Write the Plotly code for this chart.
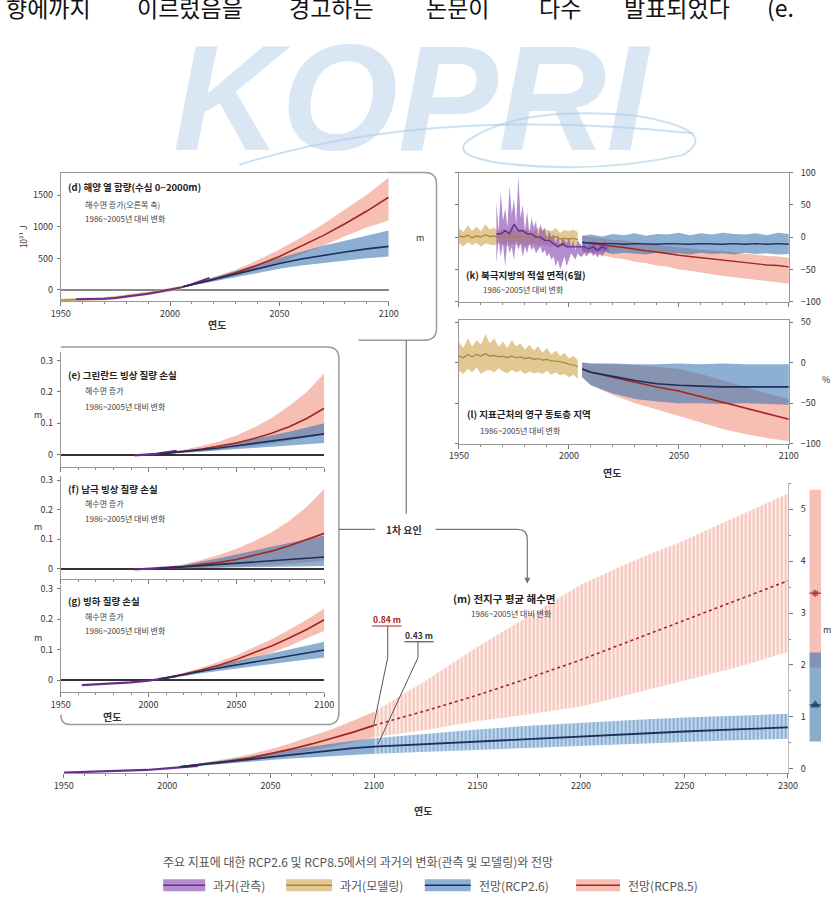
import plotly.graph_objects as go

W, H = 834, 909
FONT = "Noto Sans CJK KR"

def X(px): return px / W
def Y(py): return 1 - py / H

# ---------------- colours ----------------
C_OBS_F = "rgba(140,80,180,0.65)"; C_OBS_L = "#6a2c91"
C_MOD_F = "rgba(214,176,100,0.7)"; C_MOD_L = "#a8843c"
C_26_F = "rgba(45,110,175,0.55)"; C_26_L = "#1c2f5c"
C_85_F = "rgba(240,125,105,0.5)"; C_85_L = "#a3261f"

# ---------------- data ----------------
# (d) ocean heat content 0-2000 m (10^21 J)
d_mod_years = [1950, 1955, 1960, 1965, 1970, 1975, 1980, 1985, 1990, 1995, 2000, 2005]
d_mod_mid = [-165, -160, -155, -150, -140, -125, -105, -80, -55, -25, 0, 35]
d_mod_hi = [-140, -135, -128, -122, -112, -98, -78, -52, -28, 2, 28, 62]
d_mod_lo = [-190, -186, -182, -178, -168, -152, -132, -108, -82, -52, -28, 8]
d_obs_years = [1957, 1960, 1965, 1970, 1975, 1980, 1985, 1990, 1995, 2000, 2005, 2010, 2015, 2018]
d_obs_mid = [-150, -150, -145, -140, -130, -110, -85, -60, -30, 0, 40, 90, 150, 190]
d_proj_years = [2006, 2020, 2030, 2040, 2050, 2060, 2070, 2080, 2090, 2100]
d85_mid = [50, 170, 270, 390, 530, 690, 860, 1050, 1250, 1470]
d85_hi = [60, 200, 320, 470, 640, 830, 1040, 1270, 1510, 1780]
d85_lo = [40, 140, 225, 320, 430, 560, 700, 850, 990, 1100]
d26_mid = [50, 165, 250, 340, 420, 490, 550, 600, 650, 690]
d26_hi = [60, 195, 300, 410, 510, 610, 700, 780, 860, 940]
d26_lo = [40, 135, 205, 275, 335, 385, 425, 460, 500, 530]

# (e)(f)(g) ice / glacier mass loss (m sea level equivalent)
ice_obs_years = [1992, 1996, 2000, 2004, 2008, 2012, 2016]
e_obs = [-0.003, -0.002, 0.000, 0.002, 0.005, 0.009, 0.012]
f_obs = [-0.002, -0.001, 0.000, 0.001, 0.003, 0.005, 0.007]
g_obs_years = [1962, 1970, 1980, 1990, 2000, 2006, 2010, 2016]
g_obs = [-0.016, -0.014, -0.011, -0.007, -0.002, 0.003, 0.007, 0.013]
ice_proj_years = [2006, 2010, 2020, 2030, 2040, 2050, 2060, 2070, 2080, 2090, 2100]
e85_mid = [0.002, 0.004, 0.010, 0.017, 0.026, 0.037, 0.051, 0.068, 0.089, 0.115, 0.148]
e85_hi = [0.003, 0.006, 0.015, 0.027, 0.042, 0.061, 0.086, 0.117, 0.155, 0.200, 0.260]
e85_lo = [0.001, 0.003, 0.006, 0.010, 0.015, 0.020, 0.027, 0.035, 0.044, 0.056, 0.070]
e26_mid = [0.002, 0.004, 0.009, 0.015, 0.021, 0.028, 0.035, 0.042, 0.050, 0.058, 0.066]
e26_hi = [0.003, 0.005, 0.012, 0.020, 0.029, 0.039, 0.050, 0.061, 0.073, 0.086, 0.100]
e26_lo = [0.001, 0.003, 0.006, 0.009, 0.013, 0.017, 0.021, 0.025, 0.029, 0.033, 0.037]
f85_mid = [0.002, 0.003, 0.008, 0.014, 0.022, 0.032, 0.045, 0.060, 0.078, 0.098, 0.120]
f85_hi = [0.003, 0.006, 0.016, 0.030, 0.047, 0.068, 0.093, 0.124, 0.162, 0.210, 0.270]
f85_lo = [0.001, 0.001, 0.002, 0.003, 0.005, 0.007, 0.010, 0.013, 0.017, 0.022, 0.028]
f26_mid = [0.002, 0.003, 0.007, 0.011, 0.015, 0.019, 0.023, 0.027, 0.031, 0.035, 0.040]
f26_hi = [0.003, 0.005, 0.013, 0.024, 0.036, 0.049, 0.062, 0.075, 0.088, 0.100, 0.113]
f26_lo = [0.001, 0.001, 0.002, 0.003, 0.004, 0.005, 0.006, 0.007, 0.008, 0.009, 0.010]
g85_mid = [0.003, 0.007, 0.019, 0.033, 0.049, 0.068, 0.089, 0.112, 0.138, 0.166, 0.198]
g85_hi = [0.004, 0.009, 0.024, 0.041, 0.060, 0.082, 0.107, 0.134, 0.165, 0.198, 0.235]
g85_lo = [0.002, 0.005, 0.014, 0.025, 0.038, 0.054, 0.071, 0.090, 0.112, 0.136, 0.162]
g26_mid = [0.003, 0.007, 0.018, 0.029, 0.040, 0.050, 0.060, 0.070, 0.080, 0.090, 0.099]
g26_hi = [0.004, 0.009, 0.022, 0.036, 0.050, 0.063, 0.076, 0.089, 0.101, 0.114, 0.126]
g26_lo = [0.002, 0.005, 0.014, 0.023, 0.031, 0.039, 0.046, 0.053, 0.060, 0.067, 0.074]

# (k) Arctic June snow cover (%)
k_mod_years = list(range(1950, 2006, 2))
k_mod_hi = [14, 8, 18, 10, 16, 9, 20, 12, 15, 8, 13, 10, 17, 9, 14, 11, 12, 8, 15, 10, 12, 9, 14, 7, 11, 9, 12, 8]
k_mod_lo = [-10, -14, -8, -12, -9, -15, -10, -11, -13, -9, -12, -14, -10, -12, -11, -13, -12, -10, -14, -12, -13, -15, -12, -16, -14, -15, -16, -15]
k_mod_mid = [2, 0, 3, -1, 2, 0, 4, 1, 2, -1, 1, 0, 2, -1, 1, 0, 0, -1, 1, -1, 0, -2, 1, -3, -2, -3, -2, -4]
k_obs_years = list(range(1967, 2019))
k_obs_hi = [55, 10, 70, 25, 45, 15, 80, 35, 60, 20, 95, 30, 50, 10, 40, 5, 30, 15, 25, 0,
            20, 10, 15, -5, 10, 0, 5, -10, 5, -15, 0, -5, -10, 0, -15, -5, -20, -5, -10, -15,
            -5, -20, -10, -15, -5, -10, -20, -10, -15, -5, -10, -15]
k_obs_lo = [-40, -5, -30, -10, -45, -5, -25, -15, -35, -5, -20, -10, -30, -15, -25, -10, -20, -15, -25, -20,
            -15, -25, -20, -30, -25, -35, -30, -45, -35, -50, -40, -30, -45, -35, -25, -30, -35, -25, -30, -30,
            -25, -30, -25, -20, -30, -25, -32, -25, -30, -25, -20, -25]
k_obs_mid_years = list(range(1967, 2018, 2))
k_obs_mid = [5, 5, 10, 5, 20, 10, 10, 5, 5, 0, 0, -5, -5, -10, -15, -10, -15, -15, -15, -15, -15, -18, -15, -20, -15, -18]
k_proj_years = [2006, 2010, 2015, 2020, 2025, 2030, 2035, 2040, 2045, 2050, 2055, 2060, 2065, 2070, 2075, 2080, 2085, 2090, 2095, 2100]
k26_mid = [-8, -9, -10, -10, -11, -10, -11, -11, -10, -11, -11, -10, -11, -11, -10, -11, -10, -11, -10, -11]
k26_hi = [2, 4, 1, 5, 3, 6, 2, 5, 4, 7, 3, 6, 4, 7, 5, 4, 6, 3, 7, 5]
k26_lo = [-22, -24, -22, -26, -24, -25, -27, -24, -26, -25, -27, -24, -26, -25, -27, -24, -26, -25, -27, -26]
k85_mid = [-8, -10, -12, -14, -16, -19, -21, -23, -26, -28, -30, -32, -34, -36, -38, -39, -41, -43, -44, -46]
k85_hi = [2, 0, -2, -4, -5, -8, -10, -12, -14, -16, -17, -19, -21, -22, -24, -26, -27, -29, -30, -32]
k85_lo = [-22, -26, -28, -32, -34, -38, -40, -44, -46, -50, -52, -55, -57, -60, -62, -64, -66, -68, -70, -72]

# (l) near-surface permafrost area (%)
l_mod_years = list(range(1950, 2006, 2))
l_mod_hi = [25, 18, 30, 20, 28, 22, 35, 24, 30, 20, 26, 18, 28, 20, 24, 16, 22, 15, 20, 12, 18, 10, 15, 8, 12, 5, 8, 3]
l_mod_lo = [-10, -14, -8, -12, -6, -14, -10, -9, -12, -7, -11, -13, -9, -12, -10, -14, -11, -13, -12, -14, -10, -15, -12, -16, -14, -18, -15, -20]
l_mod_mid = [8, 6, 10, 7, 10, 8, 11, 8, 9, 7, 8, 6, 8, 6, 7, 5, 6, 4, 5, 3, 4, 2, 2, 1, 0, -2, -3, -5]
l_proj_years = [2006, 2010, 2020, 2030, 2040, 2050, 2060, 2070, 2080, 2090, 2100]
l26_mid = [-8, -12, -17, -22, -26, -28, -29, -30, -30, -30, -30]
l26_hi = [0, -1, -1, -2, -2, -1, -2, -1, -2, -2, -2]
l26_lo = [-18, -28, -38, -45, -48, -50, -50, -51, -50, -51, -52]
l85_mid = [-8, -12, -18, -24, -30, -35, -42, -49, -56, -63, -70]
l85_hi = [0, -1, -2, -3, -5, -8, -14, -22, -30, -38, -45]
l85_lo = [-18, -28, -40, -50, -58, -66, -74, -82, -88, -93, -97]

# (m) global mean sea level (m)
m_obs_years = [1950, 1960, 1970, 1980, 1990, 2000, 2010, 2015]
m_obs = [-0.07, -0.06, -0.05, -0.04, -0.02, 0.01, 0.04, 0.06]
m_proj_years = [2006, 2020, 2030, 2040, 2050, 2060, 2070, 2080, 2090, 2100]
m85_mid = [0.04, 0.10, 0.15, 0.21, 0.29, 0.38, 0.48, 0.59, 0.71, 0.84]
m85_hi = [0.05, 0.13, 0.20, 0.28, 0.38, 0.50, 0.63, 0.77, 0.93, 1.10]
m85_lo = [0.03, 0.08, 0.11, 0.15, 0.21, 0.28, 0.35, 0.43, 0.52, 0.61]
m26_mid = [0.04, 0.10, 0.14, 0.19, 0.24, 0.28, 0.32, 0.36, 0.40, 0.43]
m26_hi = [0.05, 0.12, 0.18, 0.24, 0.31, 0.37, 0.43, 0.49, 0.54, 0.59]
m26_lo = [0.03, 0.07, 0.10, 0.14, 0.17, 0.20, 0.22, 0.25, 0.27, 0.29]
m_ext_years = [2100, 2125, 2150, 2175, 2200, 2225, 2250, 2275, 2300]
m85e_mid = [0.84, 1.12, 1.42, 1.75, 2.10, 2.48, 2.87, 3.25, 3.62]
m85e_hi = [1.10, 1.70, 2.35, 2.95, 3.55, 4.00, 4.40, 4.85, 5.30]
m85e_lo = [0.61, 0.75, 0.92, 1.05, 1.20, 1.45, 1.70, 1.95, 2.25]
m26e_mid = [0.43, 0.48, 0.53, 0.58, 0.63, 0.68, 0.72, 0.76, 0.80]
m26e_hi = [0.59, 0.68, 0.76, 0.83, 0.89, 0.94, 0.99, 1.03, 1.06]
m26e_lo = [0.29, 0.33, 0.37, 0.41, 0.45, 0.49, 0.52, 0.55, 0.58]
bar85_range = [1.95, 5.37]
bar26_range = [0.53, 2.24]
mark85 = 3.38
mark26 = 1.23
label85 = "0.84 m"
label26 = "0.43 m"

fig = go.Figure()

def band(x, lo, hi, color, xa, ya, pattern=None):
    fig.add_trace(go.Scatter(x=x, y=hi, mode="lines", line=dict(width=0), xaxis=xa, yaxis=ya,
                             hoverinfo="skip", showlegend=False))
    kw = dict(fillpattern=pattern) if pattern else {}
    fig.add_trace(go.Scatter(x=x, y=lo, mode="lines", line=dict(width=0), fill="tonexty",
                             fillcolor=color, xaxis=xa, yaxis=ya, hoverinfo="skip",
                             showlegend=False, **kw))

def line(x, y, color, xa, ya, width=1.6, dash="solid"):
    fig.add_trace(go.Scatter(x=x, y=y, mode="lines", line=dict(color=color, width=width, dash=dash),
                             xaxis=xa, yaxis=ya, hoverinfo="skip", showlegend=False))

# (d)
band(d_mod_years, d_mod_lo, d_mod_hi, C_MOD_F, "x", "y")
band(d_proj_years, d85_lo, d85_hi, C_85_F, "x", "y")
band(d_proj_years, d26_lo, d26_hi, C_26_F, "x", "y")
line(d_mod_years, d_mod_mid, C_MOD_L, "x", "y")
line(d_obs_years, d_obs_mid, C_OBS_L, "x", "y", 2)
line(d_proj_years, d85_mid, C_85_L, "x", "y")
line(d_proj_years, d26_mid, C_26_L, "x", "y")

# (e)(f)(g)
for xa, ya, obs_x, obs_y, m85, h85, l85, m26, h26, l26 in [
    ("x2", "y3", ice_obs_years, e_obs, e85_mid, e85_hi, e85_lo, e26_mid, e26_hi, e26_lo),
    ("x3", "y4", ice_obs_years, f_obs, f85_mid, f85_hi, f85_lo, f26_mid, f26_hi, f26_lo),
    ("x4", "y5", g_obs_years, g_obs, g85_mid, g85_hi, g85_lo, g26_mid, g26_hi, g26_lo)]:
    band(ice_proj_years, l85, h85, C_85_F, xa, ya)
    band(ice_proj_years, l26, h26, C_26_F, xa, ya)
    line(obs_x, obs_y, C_OBS_L, xa, ya, 2.2)
    line(ice_proj_years, m85, C_85_L, xa, ya)
    line(ice_proj_years, m26, C_26_L, xa, ya)

# (k)
band(k_mod_years, k_mod_lo, k_mod_hi, C_MOD_F, "x5", "y6")
band(k_proj_years, k85_lo, k85_hi, C_85_F, "x5", "y6")
band(k_proj_years, k26_lo, k26_hi, C_26_F, "x5", "y6")
band(k_obs_years, k_obs_lo, k_obs_hi, C_OBS_F, "x5", "y6")
line(k_mod_years, k_mod_mid, C_MOD_L, "x5", "y6", 1.2)
line(k_obs_mid_years, k_obs_mid, C_OBS_L, "x5", "y6", 1.4)
line(k_proj_years, k85_mid, C_85_L, "x5", "y6", 1.4)
line(k_proj_years, k26_mid, C_26_L, "x5", "y6", 1.4)

# (l)
band(l_mod_years, l_mod_lo, l_mod_hi, C_MOD_F, "x6", "y7")
band(l_proj_years, l85_lo, l85_hi, C_85_F, "x6", "y7")
band(l_proj_years, l26_lo, l26_hi, C_26_F, "x6", "y7")
line(l_mod_years, l_mod_mid, C_MOD_L, "x6", "y7", 1.2)
line(l_proj_years, l85_mid, C_85_L, "x6", "y7", 1.6)
line(l_proj_years, l26_mid, C_26_L, "x6", "y7", 1.6)

# (m)
band(m_proj_years, m85_lo, m85_hi, C_85_F, "x7", "y8")
band(m_proj_years, m26_lo, m26_hi, C_26_F, "x7", "y8")
band(m_ext_years, m85e_lo, m85e_hi, "rgba(255,255,255,0)", "x7", "y8",
     pattern=dict(shape="|", fgcolor="#f09d8e", bgcolor="rgba(250,215,205,0.45)", size=4, solidity=0.5))
band(m_ext_years, m26e_lo, m26e_hi, "rgba(255,255,255,0)", "x7", "y8",
     pattern=dict(shape="|", fgcolor="#3f72aa", bgcolor="rgba(150,190,225,0.6)", size=4, solidity=0.4))
line(m_obs_years, m_obs, C_OBS_L, "x7", "y8", 2.2)
line(m_proj_years, m85_mid, C_85_L, "x7", "y8", 1.8)
line(m_proj_years, m26_mid, C_26_L, "x7", "y8", 1.8)
line(m_ext_years, m85e_mid, C_85_L, "x7", "y8", 1.6, "dot")
line(m_ext_years, m26e_mid, C_26_L, "x7", "y8", 1.8)

# right range bar
fig.add_trace(go.Bar(x=[0], y=[bar85_range[1] - bar85_range[0]], base=[bar85_range[0]], width=1,
                     marker=dict(color="rgba(240,150,135,0.6)", line=dict(width=0)),
                     xaxis="x8", yaxis="y9", showlegend=False, hoverinfo="skip"))
fig.add_trace(go.Bar(x=[0], y=[bar26_range[1] - bar26_range[0]], base=[bar26_range[0]], width=1,
                     marker=dict(color="rgba(60,115,170,0.6)", line=dict(width=0)),
                     xaxis="x8", yaxis="y9", showlegend=False, hoverinfo="skip"))
fig.add_trace(go.Scatter(x=[0, 0], y=[mark85, mark85], mode="markers",
                         marker=dict(symbol=["line-ew-open", "asterisk-open"], size=[14, 6], color=C_85_L,
                                     line=dict(color=C_85_L, width=1.5)),
                         xaxis="x8", yaxis="y9", showlegend=False, hoverinfo="skip"))
fig.add_trace(go.Scatter(x=[0, 0], y=[mark26, mark26], mode="markers",
                         marker=dict(symbol=["line-ew-open", "triangle-up"], size=[14, 7], color=C_26_L,
                                     line=dict(color=C_26_L, width=1.5)),
                         xaxis="x8", yaxis="y9", showlegend=False, hoverinfo="skip"))

# ---------------- axes ----------------
TF = dict(family=FONT, size=9, color="#333")
def xax(l, r, anchor, rng, vals, labels=True, mirror=True, minor_step=10):
    return dict(domain=[X(l), X(r)], anchor=anchor, range=rng, tickvals=vals,
                showticklabels=labels, ticks="outside", ticklen=4, tickcolor="#777",
                minor=dict(tickvals=list(range(int(rng[0]), int(rng[1]) + 1, minor_step)),
                           ticks="outside", ticklen=2, tickcolor="#888"),
                showline=True, linecolor="#999", linewidth=1, mirror=mirror,
                showgrid=False, zeroline=False, tickfont=TF)

def yax(b, t, anchor, rng, vals, text=None, side="left", labels=True, zl=False, zlc="#333",
        mirror=False, standoff=2):
    d = dict(domain=[Y(b), Y(t)], anchor=anchor, range=rng, tickvals=vals, side=side,
             showticklabels=labels, ticks="outside", ticklen=3, tickcolor="#777",
             showline=True, linecolor="#999", linewidth=1, mirror=mirror, ticklabelstandoff=standoff,
             showgrid=False, zeroline=zl, zerolinecolor=zlc, zerolinewidth=1.5, tickfont=TF)
    if text is not None:
        d["ticktext"] = text
    return d

yrs4 = [1950, 2000, 2050, 2100]
lay = dict(
    xaxis=xax(52, 388, "y", [1950, 2100], yrs4),
    yaxis=yax(298, 168, "x", [-172, 1860], [0, 500, 1000, 1500], zl=True, zlc="#888"),
    yaxis2=dict(overlaying="y", anchor="x", side="right", range=[-0.031, 0.375],
                tickvals=[0, 0.1, 0.2, 0.3], ticktext=["0", "0.1", "0.2", "0.3"], ticks="outside",
                ticklen=3, tickcolor="#777", showline=True, linecolor="#999", showgrid=False,
                zeroline=False, tickfont=TF, ticklabelstandoff=4),
    xaxis2=xax(52, 322, "y3", [1950, 2100], yrs4, labels=False, mirror=False),
    yaxis3=yax(467, 350, "x2", [-0.041, 0.328], [0, 0.1, 0.2, 0.3], ["0", "0.1", "0.2", "0.3"], zl=True),
    xaxis3=xax(52, 322, "y4", [1950, 2100], yrs4, labels=False, mirror=False),
    yaxis4=yax(580, 476, "x3", [-0.033, 0.313], [0, 0.1, 0.2, 0.3], ["0", "0.1", "0.2", "0.3"], zl=True),
    xaxis4=xax(52, 322, "y5", [1950, 2100], yrs4, mirror=False),
    yaxis5=yax(695, 586, "x4", [-0.039, 0.313], [0, 0.1, 0.2, 0.3], ["0", "0.1", "0.2", "0.3"], zl=True),
    xaxis5=xax(460, 798, "y6", [1950, 2100], yrs4, labels=False),
    yaxis6=yax(299, 168, "x5", [-100, 100], [-100, -50, 0, 50, 100], side="right", mirror="ticks", standoff=6),
    xaxis6=xax(460, 798, "y7", [1950, 2100], yrs4),
    yaxis7=yax(443, 318, "x6", [-100, 52], [-100, -50, 0, 50], side="right", mirror="ticks", standoff=6),
    xaxis7=xax(55, 797, "y8", [1950, 2300], [1950, 2000, 2050, 2100, 2150, 2200, 2250, 2300], mirror=False),
    yaxis8=dict(domain=[Y(777), Y(483)], anchor="x7", side="right", range=[-0.076, 5.5],
                tickvals=[0, 1, 2, 3, 4, 5], ticks="outside", ticklen=4, tickcolor="#777",
                minor=dict(tickvals=[0.5, 1.5, 2.5, 3.5, 4.5, 5.5], ticks="outside", ticklen=2, tickcolor="#888"),
                showline=True, linecolor="#bbb", showgrid=False, zeroline=False, tickfont=TF,
                ticklabelstandoff=6),
    xaxis8=dict(domain=[X(819), X(831)], anchor="y9", range=[-0.5, 0.5], visible=False),
    yaxis9=dict(domain=[Y(777), Y(483)], anchor="x8", range=[-0.076, 5.5], visible=False),
)
fig.update_layout(**lay)

# ---------------- shapes ----------------
def path(*segs):
    s = []
    for seg in segs:
        c = seg[0]
        pts = seg[1:]
        coords = " ".join(f"{X(pts[i]):.5f},{Y(pts[i+1]):.5f}" for i in range(0, len(pts), 2))
        s.append(f"{c} {coords}")
    return " ".join(s)

GREY = "#9a9a9a"
WM = "rgba(160,200,228,0.55)"
shapes = [
    # (d) bracket
    dict(type="path", xref="paper", yref="paper",
         path=path(("M", 388, 168), ("L", 425, 168), ("Q", 437, 168, 437, 180), ("L", 437, 326),
                   ("Q", 437, 338, 425, 338), ("L", 357, 338)),
         line=dict(color=GREY, width=1.5)),
    # vertical connector from (d)
    dict(type="line", xref="paper", yref="paper", x0=X(406), y0=Y(338), x1=X(406), y1=Y(514),
         line=dict(color="#777", width=1.2)),
    # (e)-(g) box
    dict(type="path", xref="paper", yref="paper",
         path=path(("M", 52, 345), ("L", 325, 345), ("Q", 337, 345, 337, 357), ("L", 337, 716),
                   ("Q", 337, 728, 325, 728), ("L", 62, 728), ("Q", 52, 728, 52, 718)),
         line=dict(color=GREY, width=1.5)),
    dict(type="line", xref="paper", yref="paper", x0=X(337), y0=Y(530), x1=X(374), y1=Y(530),
         line=dict(color="#777", width=1.2)),
    dict(type="path", xref="paper", yref="paper",
         path=path(("M", 436, 530), ("L", 520, 530), ("Q", 530, 530, 530, 540), ("L", 530, 575)),
         line=dict(color="#777", width=1.2)),
    # leader lines for 2100 values
    dict(type="path", xref="paper", yref="paper",
         path=path(("M", 371, 628), ("L", 401, 628)), line=dict(color=C_85_L, width=1)),
    dict(type="path", xref="paper", yref="paper",
         path=path(("M", 387, 628), ("L", 387, 660), ("L", 373, 727)), line=dict(color="#555", width=1)),
    dict(type="path", xref="paper", yref="paper",
         path=path(("M", 404, 644), ("L", 434, 644)), line=dict(color="#333", width=1)),
    dict(type="path", xref="paper", yref="paper",
         path=path(("M", 418, 644), ("L", 418, 660), ("L", 377, 748)), line=dict(color="#555", width=1)),
    # watermark swoosh
    dict(type="path", xref="paper", yref="paper", layer="below",
         path=path(("M", 235, 160), ("Q", 430, 100, 700, 128)), line=dict(color=WM, width=2)),
    dict(type="path", xref="paper", yref="paper", layer="below",
         path=path(("M", 470, 135), ("Q", 520, 100, 640, 110), ("Q", 730, 125, 690, 150),
                   ("Q", 600, 170, 500, 158), ("Q", 450, 150, 470, 135)),
         line=dict(color=WM, width=2)),
]

# legend swatches
leg_items = [(157, 200, C_OBS_F, C_OBS_L, "과거(관측)"),
             (283, 330, C_MOD_F, C_MOD_L, "과거(모델링)"),
             (425, 472, C_26_F, C_26_L, "전망(RCP2.6)"),
             (580, 625, C_85_F, C_85_L, "전망(RCP8.5)")]
LEG_Y = 891
for x0, x1, fc, lc, _ in leg_items:
    shapes.append(dict(type="rect", xref="paper", yref="paper", x0=X(x0), x1=X(x1),
                       y0=Y(LEG_Y + 6), y1=Y(LEG_Y - 6), fillcolor=fc, line=dict(width=0)))
    shapes.append(dict(type="line", xref="paper", yref="paper", x0=X(x0), x1=X(x1),
                       y0=Y(LEG_Y), y1=Y(LEG_Y), line=dict(color=lc, width=1.5)))
fig.update_layout(shapes=shapes)

# ---------------- text ----------------
def txt(px, py, s, size=9, color="#222", weight="normal", anchor="left", angle=0, family=FONT, yshift=0):
    fig.add_annotation(x=X(px), y=Y(py), xref="paper", yref="paper", text=s, showarrow=False,
                       xanchor=anchor, yanchor="middle", textangle=angle, yshift=yshift,
                       font=dict(family=family, size=size, color=color, weight=weight))

# watermark
fig.add_annotation(x=X(412), y=Y(92), xref="paper", yref="paper", text="KOPRI", showarrow=False,
                   xanchor="center", yanchor="middle",
                   font=dict(family="Liberation Sans", size=150, color="rgba(180,206,232,0.5)",
                             weight="bold", style="italic"))
# cut text line at top (words spread across the page width)
top_words = [("향에까지", -6), ("이르렀음을", 128), ("경고하는", 284), ("논문이", 424),
             ("다수", 540), ("발표되었다", 627), ("(e.", 774)]
for w, xx in top_words:
    txt(xx, 5, w, 23, "#111", yshift=5)

# panel labels
txt(57, 183, "(d) 해양 열 함량(수심 0~2000m)", 9.5, "#222", "bold")
txt(75, 200, "해수면 증가(오른쪽 축)", 8, "#444")
txt(75, 215, "1986~2005년 대비 변화", 8, "#444")
txt(57, 373, "(e) 그린란드 빙상 질량 손실", 9.5, "#222", "bold")
txt(75, 389, "해수면 증가", 8, "#444")
txt(75, 405, "1986~2005년 대비 변화", 8, "#444")
txt(57, 489, "(f) 남극 빙상 질량 손실", 9.5, "#222", "bold")
txt(75, 504, "해수면 증가", 8, "#444")
txt(75, 519, "1986~2005년 대비 변화", 8, "#444")
txt(57, 603, "(g) 빙하 질량 손실", 9.5, "#222", "bold")
txt(75, 618, "해수면 증가", 8, "#444")
txt(75, 633, "1986~2005년 대비 변화", 8, "#444")
txt(465, 272, "(k) 북극지방의 적설 면적(6월)", 9.5, "#222", "bold")
txt(483, 287, "1986~2005년 대비 변화", 8, "#444")
txt(466, 413, "(l) 지표근처의 영구 동토층 지역", 9.5, "#222", "bold")
txt(479, 430, "1986~2005년 대비 변화", 8, "#444")
txt(452, 600, "(m) 전지구 평균 해수면", 10.5, "#222", "bold")
txt(470, 615, "1986~2005년 대비 변화", 8, "#444")
txt(404, 530, "1차 요인", 10, "#333", "bold", anchor="center")
txt(386, 621, label85, 8.5, C_85_L, "bold", anchor="center")
txt(419, 637, label26, 8.5, "#333", "bold", anchor="center")

# axis titles
txt(212, 322, "연도", 10, "#333", "bold", anchor="center")
txt(105, 720, "연도", 10, "#333", "bold", anchor="center")
txt(617, 472, "연도", 10, "#333", "bold", anchor="center")
txt(423, 815, "연도", 10, "#333", "bold", anchor="center")
txt(13, 233, "10²¹ J", 8.5, "#333", anchor="center", angle=-90)
txt(420, 234, "m", 9, "#333", anchor="center")
txt(29, 413, "m", 9, "#333", anchor="center")
txt(29, 527, "m", 9, "#333", anchor="center")
txt(29, 640, "m", 9, "#333", anchor="center")
txt(836, 378, "%", 9, "#333", anchor="center")
txt(837, 632, "m", 9, "#333", anchor="center")

# legend
txt(155, LEG_Y - 24, "주요 지표에 대한 RCP2.6 및 RCP8.5에서의 과거의 변화(관측 및 모델링)와 전망", 12, "#555")
for x0, x1, fc, lc, lab in leg_items:
    txt(x1 + 6, LEG_Y, lab, 12, "#555")

# arrow into (m) label
fig.add_annotation(x=X(530), y=Y(585), xref="paper", yref="paper", ax=0, ay=-12, text="",
                   showarrow=True, arrowhead=2, arrowsize=1, arrowwidth=1.2, arrowcolor="#777")

fig.update_layout(width=W, height=H, margin=dict(l=0, r=0, t=0, b=0),
                  paper_bgcolor="white", plot_bgcolor="rgba(0,0,0,0)", barmode="overlay",
                  showlegend=False, font=dict(family=FONT))
fig.write_html("out.html")
